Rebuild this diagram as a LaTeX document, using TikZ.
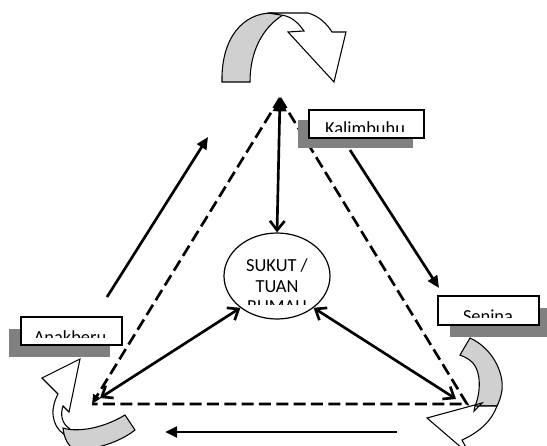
\documentclass[tikz,border=0pt]{standalone}
\usepackage{fontspec}
\setmainfont{Carlito}
\usetikzlibrary{arrows.meta,shapes.geometric}
\definecolor{shadowgray}{RGB}{128,128,128}
\definecolor{bandgray}{RGB}{208,208,208}
\begin{document}
\begin{tikzpicture}[x=0.75pt,y=-0.75pt,
  tri/.style={line width=2pt,dash pattern=on 9pt off 4pt},
  conn/.style={line width=2pt},
  dbl/.style={conn,{Straight Barb[length=7pt,width=11pt]}-{Straight Barb[length=7pt,width=11pt]}},
  solidarr/.style={conn,-{Triangle[length=9pt,width=8pt]}},
  labelbox/.style={draw,line width=1pt,fill=white,inner sep=0pt},
  shadowbox/.style={fill=shadowgray,inner sep=0pt},
  curv/.style={draw,line width=0.8pt,line join=miter},
  lbl/.style={font=\fontsize{13.8}{16}\selectfont,anchor=base,inner sep=0pt}
]
\useasboundingbox (0,0) rectangle (547,446);
\clip (0,0) rectangle (547,446);

% ---- curved arrows ----
% top
\path[curv,fill=bandgray] (222,82) .. controls (221,38) and (243,13) .. (272,13)
  -- (283,15) .. controls (262,28) and (250,52) .. (250,82) -- cycle;
\path[curv,fill=white] (268,13) -- (308,13) .. controls (319,16) and (327,24) .. (332,32)
  -- (346,32) -- (334,82) -- (288,32) -- (304,31)
  .. controls (297,21) and (290,16) .. (281,15) -- cycle;
% bottom right
\path[curv,fill=bandgray] (470,338) .. controls (492,348) and (504,372) .. (502,390)
  .. controls (501,397) and (499,402) .. (497,406) -- (475,406)
  .. controls (481,392) and (481,372) .. (473,363) .. controls (469,359) and (465,357) .. (460,355) -- cycle;
\path[curv,fill=white] (475,406) -- (497,406) .. controls (492,420) and (480,432) .. (462,440)
  -- (470,455) -- (427,418) -- (482,403) -- (474,411) -- cycle;
% bottom left
\path[curv,fill=white] (42,378) -- (80,359) -- (69,412) -- (63,406)
  .. controls (60,415) and (62,424) .. (70,429) -- (80,440)
  .. controls (62,438) and (52,426) .. (53,410)
  .. controls (54,402) and (56,398) .. (58,394) -- cycle;
\path[curv,fill=bandgray] (63,428) .. controls (75,432) and (100,430) .. (125,415)
  -- (135,430) .. controls (120,442) and (95,450) .. (75,450)
  .. controls (68,446) and (64,438) .. (63,428) -- cycle;

% ---- coordinates ----
\coordinate (apex) at (280,98);
\coordinate (L) at (92,404);
\coordinate (R) at (467,404);
\coordinate (Lin) at (100,398);
\coordinate (Rin) at (456,399);
\coordinate (a1s) at (107,297);
\coordinate (a1e) at (208,137);
\coordinate (a2s) at (350,150);
\coordinate (a2e) at (439,288);
\coordinate (a3s) at (397,432);
\coordinate (a3e) at (165,432);

% ---- centre ----
\node[draw,ellipse,line width=0.9pt,minimum width=79.5pt,minimum height=64.5pt,inner sep=0pt] (ell) at (277,276) {};
\begin{scope}
\clip (215,238) rectangle (340,304);
\node[lbl] (t1) at (277,271.5) {SUKUT /};
\node[lbl] (t2) at (277,292) {TUAN};
\node[lbl] (t3) at (277,312.5) {RUMAH};
\end{scope}

% ---- triangle ----
\draw[tri] (apex) -- (R) -- (L);
\draw[tri,-{Triangle[length=7pt,width=6pt]}] (apex) -- (L);

% ---- connectors ----
\draw[conn,{Triangle[length=10pt,width=10pt]}-{Straight Barb[length=7pt,width=11pt]}] (apex) -- (ell.north);
\draw[dbl] (ell.-139) -- (Lin);
\draw[dbl] (ell.-41) -- (Rin);
\draw[solidarr] (a1s) -- (a1e);
\draw[solidarr] (a2s) -- (a2e);
\draw[solidarr] (a3s) -- (a3e);

% ---- labels ----
\node[shadowbox,minimum width=86.25pt,minimum height=21pt] (kalsh) at (355.5,134) {};
\node[labelbox,minimum width=86.25pt,minimum height=21pt] (kal) at (366.5,124) {};
\begin{scope}
\clip (310,111) rectangle (423,131.5);
\node[lbl] (kaltxt) at (365,134) {Kalimbuhu};
\end{scope}

\node[shadowbox,minimum width=75.75pt,minimum height=21.75pt] (sensh) at (500.5,322.5) {};
\node[labelbox,minimum width=75.75pt,minimum height=21.75pt] (sen) at (488.5,310.5) {};
\begin{scope}
\clip (439,297) rectangle (538,317.5);
\node[lbl] (sentxt) at (488,322) {Senina};
\end{scope}

\node[shadowbox,minimum width=75.75pt,minimum height=21pt] (anash) at (59.5,343) {};
\node[labelbox,minimum width=75.75pt,minimum height=21pt] (ana) at (71.5,331) {};
\begin{scope}
\clip (22,318) rectangle (121,337.5);
\node[lbl] (anatxt) at (70,343) {Anakberu};
\end{scope}
\end{tikzpicture}
\end{document}
